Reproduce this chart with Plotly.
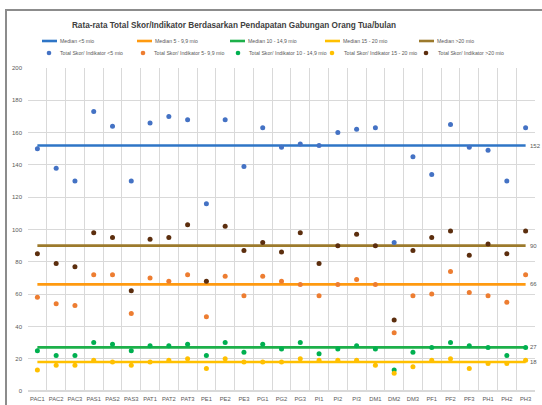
import plotly.graph_objects as go

categories = ["PAC1", "PAC2", "PAC3", "PAS1", "PAS2", "PAS3", "PAT1", "PAT2", "PAT3",
              "PE1", "PE2", "PE3", "PG1", "PG2", "PG3", "PI1", "PI2", "PI3",
              "DM1", "DM2", "DM3", "PF1", "PF2", "PF3", "PH1", "PH2", "PH3"]

skor_lt5 = [150, 138, 130, 173, 164, 130, 166, 170, 168, 116, 168, 139, 163, 151, 153, 152, 160, 162,
            163, 92, 145, 134, 165, 151, 149, 130, 163]
skor_5_9 = [58, 54, 53, 72, 72, 48, 70, 68, 72, 46, 71, 59, 71, 68, 66, 59, 66, 69,
            66, 36, 59, 60, 74, 61, 59, 55, 72]
skor_10_14 = [25, 22, 22, 30, 29, 25, 28, 28, 29, 22, 30, 24, 29, 26, 30, 23, 26, 28,
              26, 13, 24, 27, 30, 28, 27, 22, 27]
skor_15_20 = [13, 16, 16, 19, 18, 16, 18, 19, 20, 14, 20, 18, 18, 18, 20, 19, 19, 19,
              16, 11, 15, 19, 20, 14, 17, 17, 19]
skor_gt20 = [85, 79, 77, 98, 95, 62, 94, 95, 103, 68, 102, 87, 92, 86, 98, 79, 90, 97,
             90, 44, 87, 95, 99, 84, 91, 85, 99]

medians = [152, 66, 27, 18, 90]
median_names = ["Median <5 mio", "Median 5 - 9,9 mio", "Median 10 - 14,9 mio",
                "Median 15 - 20 mio", "Median >20 mio"]
median_colors = ["#2E75C6", "#FF9A10", "#1DB04A", "#FFC000", "#9C7A2C"]

series = [skor_lt5, skor_5_9, skor_10_14, skor_15_20, skor_gt20]
series_names = ["Total Skor/ Indikator <5 mio", "Total Skor/ Indikator 5- 9,9 mio",
                "Total Skor/ Indikator 10 - 14,9 mio", "Total Skor/ Indikator 15 - 20 mio",
                "Total Skor/ Indikator >20 mio"]
series_colors = ["#4472C4", "#ED7D31", "#00B050", "#FFC000", "#5C2E0E"]

W, H = 542, 405
L, R, T, B = 28, 535, 68, 391


def px_x(p):
    return (p - L) / (R - L)


def px_y(p):
    return (B - p) / (B - T)


fig = go.Figure()

for name, m, c in zip(median_names, medians, median_colors):
    fig.add_trace(go.Scatter(x=[categories[0], categories[-1]], y=[m, m], mode="lines",
                             name=name, line=dict(color=c, width=2.6), showlegend=False))

for name, vals, c in zip(series_names, series, series_colors):
    fig.add_trace(go.Scatter(x=categories, y=vals, mode="markers", name=name,
                             marker=dict(color=c, size=5), showlegend=False))

for m in medians:
    fig.add_annotation(x=categories[-1], y=m, text=str(m), showarrow=False,
                       xanchor="left", xshift=2, font=dict(size=6, color="#595959"))

# legend (two rows, laid out like the original spreadsheet chart)
leg_font = dict(family="Liberation Sans", size=5.2, color="#595959")
row1_y, row2_y = 41, 53
line_starts = [42, 137, 230, 325, 419]
dot_centers = [49, 143, 238, 332, 426]
dot_text = [58, 152, 247, 342, 436]
for i in range(5):
    x0 = line_starts[i]
    fig.add_shape(type="line", xref="paper", yref="paper",
                  x0=px_x(x0), x1=px_x(x0 + 15), y0=px_y(row1_y), y1=px_y(row1_y),
                  line=dict(color=median_colors[i], width=2.6))
    fig.add_annotation(xref="paper", yref="paper", x=px_x(x0 + 15.5), y=px_y(row1_y),
                       text=median_names[i], showarrow=False, xanchor="left", yanchor="middle",
                       font=leg_font)
    fig.add_shape(type="circle", xref="paper", yref="paper", xsizemode="pixel", ysizemode="pixel",
                  xanchor=px_x(dot_centers[i]), yanchor=px_y(row2_y),
                  x0=-2.3, x1=2.3, y0=-2.3, y1=2.3,
                  fillcolor=series_colors[i], line=dict(width=0))
    fig.add_annotation(xref="paper", yref="paper", x=px_x(dot_text[i]), y=px_y(row2_y),
                       text=series_names[i], showarrow=False, xanchor="left", yanchor="middle",
                       font=leg_font)

# chart frame
fig.add_shape(type="rect", xref="paper", yref="paper",
              x0=px_x(6), x1=2, y0=-1, y1=px_y(10),
              line=dict(color="#8C8C8C", width=2), fillcolor="rgba(0,0,0,0)", layer="above")

fig.update_layout(
    width=W, height=H,
    margin=dict(l=L, r=W - R, t=T, b=H - B, pad=0, autoexpand=False),
    paper_bgcolor="white", plot_bgcolor="white",
    font=dict(family="Liberation Sans", color="#595959"),
    title=dict(text="<b>Rata-rata Total Skor/Indikator Berdasarkan Pendapatan Gabungan Orang Tua/bulan</b>",
               x=234 / W, xanchor="center", y=1 - 25 / H, yanchor="middle",
               font=dict(family="Liberation Sans", size=8.2, color="#404040")),
    xaxis=dict(type="category", categoryorder="array", categoryarray=categories,
               range=[-0.5, len(categories) - 0.5], tickson="boundaries",
               showgrid=True, gridcolor="#D9D9D9", gridwidth=1, ticks="",
               showline=False, zeroline=False, tickangle=0,
               tickfont=dict(size=5.8, color="#595959"), ticklabelstandoff=3),
    yaxis=dict(range=[0, 200], dtick=20, showgrid=True, gridcolor="#D9D9D9", gridwidth=1,
               zeroline=True, zerolinecolor="#D9D9D9", showline=False, ticks="",
               tickfont=dict(size=6, color="#595959"), ticklabelstandoff=5),
    showlegend=False,
)

fig.write_html("out.html", config={"displayModeBar": False},
               post_script="document.body.style.margin='0px';")
